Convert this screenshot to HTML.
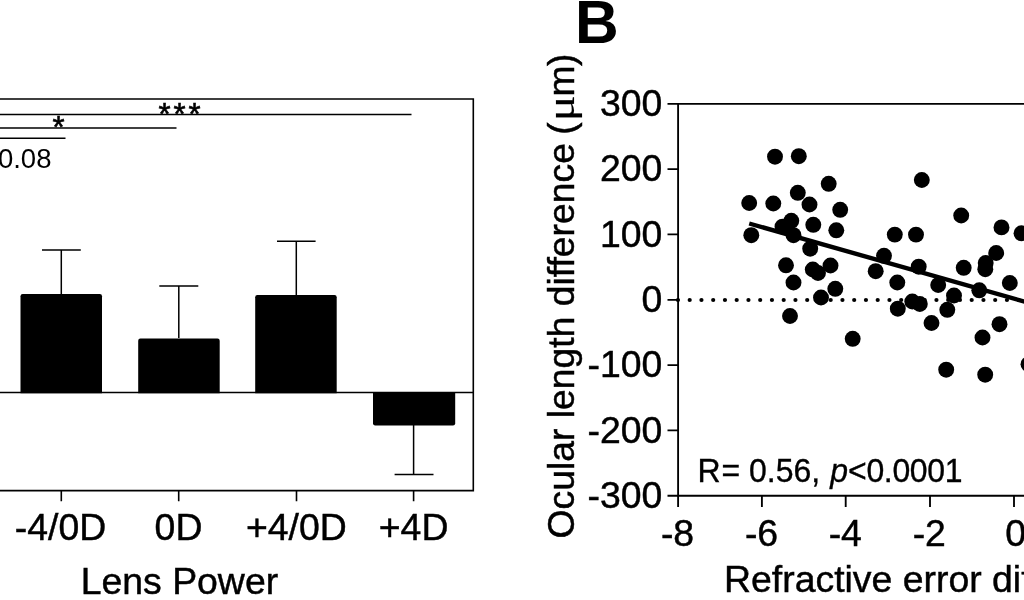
<!DOCTYPE html>
<html lang="en">
<head>
<meta charset="utf-8">
<title>Figure</title>
<style>
html,body{margin:0;padding:0;background:#fff;}
body{width:1024px;height:600px;overflow:hidden;}
svg{display:block;will-change:transform;filter:grayscale(1);}
text{font-family:"Liberation Sans",Arial,Helvetica,sans-serif;fill:#000;}
.t{font-size:37.4px;stroke:#000;stroke-width:0.45px;}
.ln{stroke:#000;stroke-width:1.6;fill:none;}
.lb{stroke:#000;stroke-width:1.85;fill:none;}
.eb{stroke:#000;stroke-width:1.5;fill:none;}
</style>
</head>
<body>
<svg width="1024" height="600" viewBox="0 0 1024 600">
<rect width="1024" height="600" fill="#fff"/>

<!-- ===== Panel A (left, cropped) ===== -->
<g id="panelA">
  <!-- frame -->
  <path class="ln" d="M-5 99H473.3V490.6H-5"/>
  <!-- zero line -->
  <path class="ln" d="M-5 392.5H473.3"/>
  <!-- significance lines -->
  <path class="eb" d="M-5 114.5H411.5"/>
  <path class="eb" d="M-5 127.9H176.5"/>
  <path class="eb" d="M-5 138.2H65.5"/>
  <text x="158.4" y="124.6" font-size="31" letter-spacing="2.95" stroke="#000" stroke-width="0.6">***</text>
  <text x="52.4" y="138.2" font-size="31" stroke="#000" stroke-width="0.6">*</text>
  <text x="-2.1" y="168.1" font-size="27.5">0.08</text>
  <!-- bars -->
  <path d="M20.5 393.2V296.2Q20.5 294 22.7 294H99.8Q102 294 102 296.2V393.2Z"/>
  <path d="M138.2 393.2V340.7Q138.2 338.5 140.39999999999998 338.5H217.5Q219.7 338.5 219.7 340.7V393.2Z"/>
  <path d="M255.2 393.2V297.2Q255.2 295 257.4 295H334.5Q336.7 295 336.7 297.2V393.2Z"/>
  <path d="M373 392V423.2Q373 425.4 375.2 425.4H453.0Q455.2 425.4 455.2 423.2V392Z"/>
  <!-- error bars -->
  <path class="eb" d="M61.3 294V250M42 250H80.8"/>
  <path class="eb" d="M178.8 338V286M159.3 286H198.3"/>
  <path class="eb" d="M296.3 295V241.3M277 241.3H315.6"/>
  <path class="eb" d="M413.6 425V474.5M394.6 474.5H433.5"/>
  <!-- ticks -->
  <path class="ln" d="M61.3 490.5V501.3M178.7 490.5V501.3M296.5 490.5V501.3M413.6 490.5V501.3"/>
  <!-- tick labels -->
  <text class="t" x="60.5" y="539.6" text-anchor="middle">-4/0D</text>
  <text class="t" x="178.5" y="539.6" text-anchor="middle">0D</text>
  <text class="t" x="296.3" y="539.6" text-anchor="middle">+4/0D</text>
  <text class="t" x="413.6" y="539.6" text-anchor="middle">+4D</text>
  <text class="t" x="179.4" y="594.2" text-anchor="middle">Lens Power</text>
</g>

<!-- ===== Panel B (right, cropped) ===== -->
<g id="panelB">
  <text x="575.1" y="43.2" font-size="60.5" font-weight="bold">B</text>
  <!-- axes -->
  <path class="lb" d="M678.1 103.8V495.7H1030"/>
  <path class="lb" d="M667.5 103.8H1030"/>
  <path class="lb" d="M667.5 169.1H678M667.5 234.4H678M667.5 299.8H678M667.5 365.1H678M667.5 430.4H678M667.5 495.7H678"/>
  <path class="lb" d="M678.1 495.7V507M761.9 495.7V507M845.7 495.7V507M930 495.7V507M1014 495.7V507"/>
  <!-- y tick labels -->
  <g class="t" text-anchor="end">
    <text x="662.3" y="116.1">300</text>
    <text x="662.3" y="181.4">200</text>
    <text x="662.3" y="246.7">100</text>
    <text x="662.3" y="312.1">0</text>
    <text x="662.3" y="377.4">-100</text>
    <text x="662.3" y="442.7">-200</text>
    <text x="662.3" y="508.0">-300</text>
  </g>
  <!-- x tick labels -->
  <g class="t" text-anchor="middle">
    <text x="677.5" y="545.6">-8</text>
    <text x="761.5" y="545.6">-6</text>
    <text x="845.3" y="545.6">-4</text>
    <text x="929.3" y="545.6">-2</text>
    <text x="1015.7" y="545.6">0</text>
  </g>
  <text class="t" x="724" y="591.6">Refractive error difference (D)</text>
  <g class="t" style="font-size:37.3px">
    <text transform="translate(574.2 538.4) rotate(-90)">Ocular length difference</text>
    <text transform="translate(574.2 134.8) rotate(-90)">(</text>
    <text transform="translate(574.2 121.3) rotate(-90) scale(1.27 1)" style="font-family:'Liberation Serif',serif;font-size:38px;stroke-width:0.15px">μ</text>
    <text transform="translate(574.2 96.5) rotate(-90)">m</text>
    <text transform="translate(574.2 66) rotate(-90)">)</text>
  </g>
  <text transform="translate(697.5 481.9) scale(0.97 1)" font-size="33" stroke="#000" stroke-width="0.35">R<tspan dx="0.8">= 0.56, </tspan><tspan dx="1.3" font-style="italic">p</tspan><tspan letter-spacing="-0.38">&lt;0.0001</tspan></text>
  <!-- dotted zero line -->
  <path d="M677.95 300H1030" stroke="#000" stroke-width="4.2" stroke-linecap="round" stroke-dasharray="0 11.75" fill="none"/>
  <!-- regression line -->
  <path d="M749.2 223.5L1030 303.2" stroke="#000" stroke-width="4.4" fill="none"/>
  <!-- points -->
  <g id="pts" fill="#000">
    <circle cx="775" cy="156.7" r="7.95"/>
    <circle cx="798.8" cy="156.2" r="7.95"/>
    <circle cx="828.7" cy="183.8" r="7.95"/>
    <circle cx="797.8" cy="192.8" r="7.95"/>
    <circle cx="749.2" cy="203" r="7.95"/>
    <circle cx="773.3" cy="203.5" r="7.95"/>
    <circle cx="809.5" cy="204.5" r="7.95"/>
    <circle cx="840.2" cy="209.8" r="7.95"/>
    <circle cx="791.3" cy="220.8" r="7.95"/>
    <circle cx="782.5" cy="226.6" r="7.95"/>
    <circle cx="813.3" cy="224.8" r="7.95"/>
    <circle cx="836.3" cy="230.3" r="7.95"/>
    <circle cx="751.3" cy="235.2" r="7.95"/>
    <circle cx="793.5" cy="235.2" r="7.95"/>
    <circle cx="894.8" cy="234.6" r="7.95"/>
    <circle cx="810.2" cy="248.7" r="7.95"/>
    <circle cx="786" cy="265.3" r="7.95"/>
    <circle cx="830.5" cy="265.5" r="7.95"/>
    <circle cx="812.8" cy="269.5" r="7.95"/>
    <circle cx="818" cy="273" r="7.95"/>
    <circle cx="793.5" cy="282.5" r="7.95"/>
    <circle cx="835.3" cy="288.8" r="7.95"/>
    <circle cx="821" cy="297.5" r="7.95"/>
    <circle cx="790" cy="316" r="7.95"/>
    <circle cx="875.7" cy="271.2" r="7.95"/>
    <circle cx="884" cy="255.8" r="7.95"/>
    <circle cx="921.8" cy="180" r="7.95"/>
    <circle cx="961.2" cy="215.5" r="7.95"/>
    <circle cx="1001.5" cy="227.4" r="7.95"/>
    <circle cx="1021.5" cy="233.3" r="7.95"/>
    <circle cx="916" cy="234.6" r="7.95"/>
    <circle cx="918.7" cy="266.7" r="7.95"/>
    <circle cx="897.3" cy="282.5" r="7.95"/>
    <circle cx="963.7" cy="267.8" r="7.95"/>
    <circle cx="996.2" cy="253" r="7.95"/>
    <circle cx="985.7" cy="263" r="7.95"/>
    <circle cx="985.3" cy="269.2" r="7.95"/>
    <circle cx="1009.8" cy="283" r="7.95"/>
    <circle cx="938.2" cy="285" r="7.95"/>
    <circle cx="979.3" cy="290.3" r="7.95"/>
    <circle cx="954" cy="295.5" r="7.95"/>
    <circle cx="912.3" cy="301.5" r="7.95"/>
    <circle cx="919.8" cy="304" r="7.95"/>
    <circle cx="897.8" cy="308.7" r="7.95"/>
    <circle cx="947.3" cy="309.8" r="7.95"/>
    <circle cx="931.5" cy="323" r="7.95"/>
    <circle cx="999.5" cy="324.2" r="7.95"/>
    <circle cx="982.5" cy="337.5" r="7.95"/>
    <circle cx="946.2" cy="369.7" r="7.95"/>
    <circle cx="985.2" cy="374.7" r="7.95"/>
    <circle cx="1028.5" cy="364.2" r="7.95"/>
    <circle cx="852.7" cy="338.8" r="7.95"/>
  </g>
</g>
</svg>
</body>
</html>
